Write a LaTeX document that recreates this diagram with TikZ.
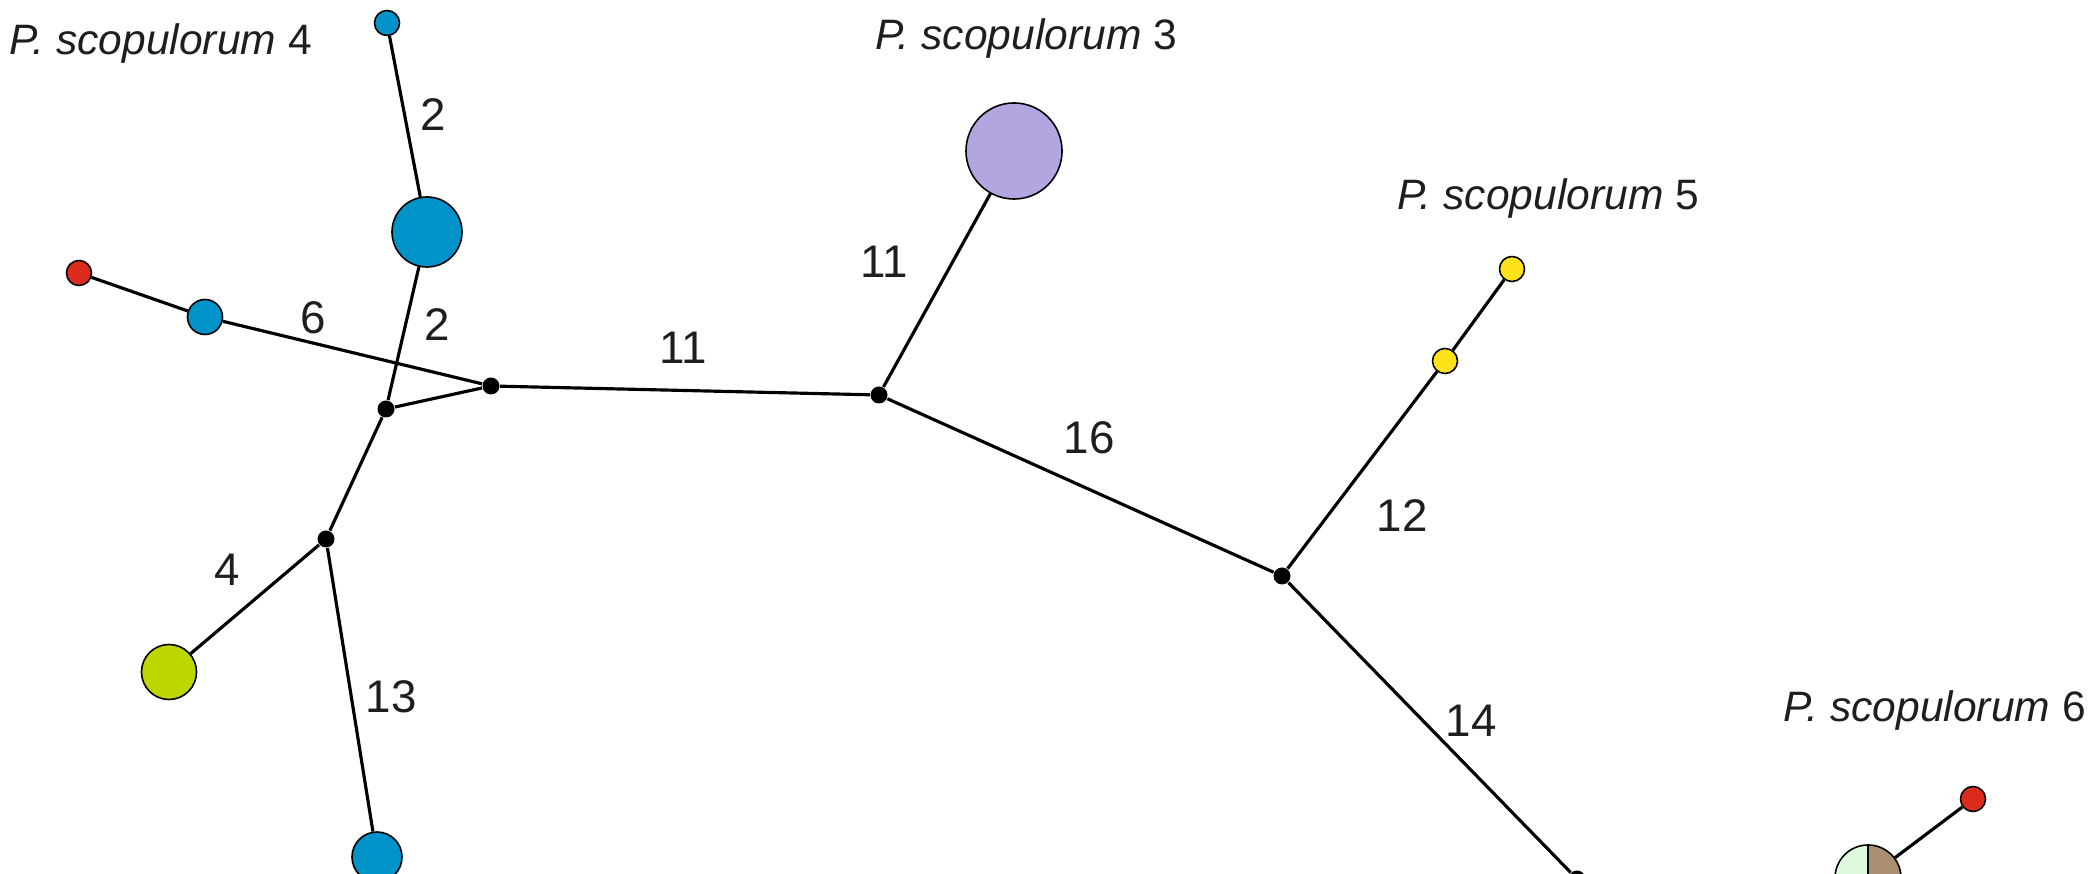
\documentclass[tikz,border=0pt]{standalone}
\usepackage{fontspec}
\setmainfont{Liberation Sans}
\definecolor{azul}{RGB}{0,147,201}
\definecolor{vermelho}{RGB}{220,42,28}
\definecolor{lilas}{RGB}{179,165,224}
\definecolor{amarelo}{RGB}{255,226,26}
\definecolor{verdelima}{RGB}{189,214,0}
\definecolor{verdeclaro}{RGB}{222,248,222}
\definecolor{bege}{RGB}{170,144,112}
\definecolor{texto}{RGB}{30,30,30}

\tikzset{
  hap/.style={circle, draw=black, line width=0.45pt, inner sep=0pt},
  juncao/.style={circle, fill=black, inner sep=0pt, minimum size=0.17cm},
  ramo/.style={line width=0.9pt},
  passos/.style={font=\fontsize{13}{15}\selectfont, text=texto},
  especie/.style={font=\fontsize{12.1}{14}\selectfont, text=texto, inner sep=0pt},
}

\begin{document}
\begin{tikzpicture}[x=0.01cm, y=-0.01cm]
  \useasboundingbox (0,0) rectangle (2089,874);

  % haplotipos
  \node[hap, fill=azul, minimum size=0.25cm] (hazul1) at (387,23) {};
  \node[hap, fill=azul, minimum size=0.70cm] (hazul2) at (427,232) {};
  \node[hap, fill=vermelho, minimum size=0.25cm] (hverm1) at (79,273) {};
  \node[hap, fill=azul, minimum size=0.35cm] (hazul3) at (205,317) {};
  \node[hap, fill=verdelima, minimum size=0.55cm] (hverde) at (169,672) {};
  \node[hap, fill=azul, minimum size=0.50cm] (hazul4) at (377,857) {};
  \node[hap, fill=lilas, minimum size=0.96cm] (hlilas) at (1014,151) {};
  \node[hap, fill=amarelo, minimum size=0.25cm] (hamar1) at (1445,361) {};
  \node[hap, fill=amarelo, minimum size=0.25cm] (hamar2) at (1512,269) {};
  \node[hap, fill=vermelho, minimum size=0.25cm] (hverm2) at (1973,799) {};

  % haplotipo partilhado
  \coordinate (cpie) at (1868,878);
  \fill[verdeclaro] (cpie) -- ++(0,-33) arc[start angle=90, end angle=270, radius=0.33cm] -- cycle;
  \fill[bege] (cpie) -- ++(0,33) arc[start angle=-90, end angle=90, radius=0.33cm] -- cycle;
  \node[hap, minimum size=0.66cm] (hpie) at (cpie) {};
  \draw[line width=0.45pt] (hpie.north) -- (hpie.south);

  % vetores medianos
  \node[juncao] (n1) at (386,409) {};
  \node[juncao] (n2) at (491,386) {};
  \node[juncao] (n3) at (326,539) {};
  \node[juncao] (n4) at (879,395) {};
  \node[juncao] (n5) at (1282,576) {};
  \node[juncao] (n6) at (1577,879) {};

  % ramos
  \draw[ramo] (hazul1) -- (hazul2);
  \draw[ramo] (hazul2) -- (n1);
  \draw[ramo] (hverm1) -- (hazul3);
  \draw[ramo] (hazul3) -- (n2);
  \draw[ramo] (n1) -- (n2);
  \draw[ramo] (n1) -- (n3);
  \draw[ramo] (n3) -- (hverde);
  \draw[ramo] (n3) -- (hazul4);
  \draw[ramo] (n2) -- (n4);
  \draw[ramo] (n4) -- (hlilas);
  \draw[ramo] (n4) -- (n5);
  \draw[ramo] (n5) -- (hamar1);
  \draw[ramo] (hamar1) -- (hamar2);
  \draw[ramo] (n5) -- (n6);
  \draw[ramo] (hpie) -- (hverm2);

  % passos mutacionais
  \node[passos] (p1) at (433,115) {2};
  \node[passos] (p2) at (437,325) {2};
  \node[passos] (p3) at (313,318) {6};
  \node[passos] (p4) at (227,570) {4};
  \node[passos] (p5) at (391,697) {13};
  \node[passos] (p6) at (683,348) {11};
  \node[passos] (p7) at (884,262) {11};
  \node[passos] (p8) at (1089,438) {16};
  \node[passos] (p9) at (1402,516) {12};
  \node[passos] (p10) at (1471,721) {14};

  % especies
  \node[especie, anchor=base west] (e4) at (9,55) {\textit{P. scopulorum} 4};
  \node[especie, anchor=base] (e3) at (1026,50) {\textit{P. scopulorum} 3};
  \node[especie, anchor=base] (e5) at (1548,210) {\textit{P. scopulorum} 5};
  \node[especie, anchor=base west] (e6) at (1783,722) {\textit{P. scopulorum} 6};
\end{tikzpicture}
\end{document}
